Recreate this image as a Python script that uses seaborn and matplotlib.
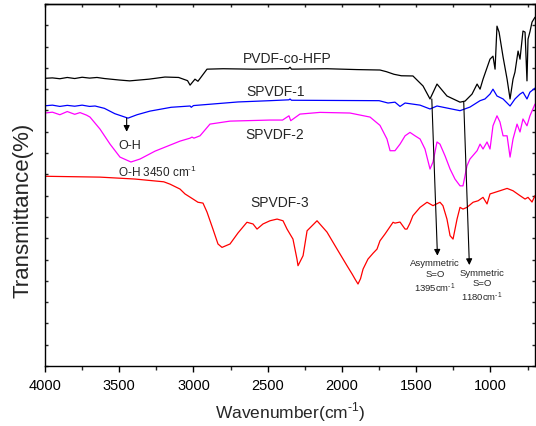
import numpy as np
import pandas as pd
import matplotlib
matplotlib.use("Agg")
import matplotlib.pyplot as plt
import seaborn as sns

# FTIR spectra (wavenumber in cm-1, transmittance offset per sample, arbitrary units)
wn_hfp = [4000, 3950, 3900, 3850, 3800, 3750, 3700, 3650, 3600, 3500, 3430, 3300, 3192,
          3100, 3040, 3023, 2990, 2970, 2909, 2800, 2600, 2400, 2360, 2350, 2340, 2100,
          1900, 1744, 1700, 1650, 1600, 1522, 1454, 1407, 1360, 1293, 1205, 1171, 1124,
          1090, 1070, 1050, 1003, 983, 969, 956, 942, 915, 888, 868, 848, 835, 814, 801,
          781, 767, 754, 747, 734, 720, 700]
t_hfp = [13.51, 13.53, 13.49, 13.55, 13.50, 13.56, 13.52, 13.55, 13.50, 13.43, 13.39, 13.47,
         13.57, 13.55, 13.40, 13.19, 13.47, 13.37, 13.94, 13.96, 13.94, 13.96, 13.96, 14.03,
         13.94, 13.96, 13.92, 13.90, 13.82, 13.70, 13.63, 13.62, 13.15, 12.54, 13.24, 12.68,
         12.39, 12.44, 12.77, 13.24, 13.00, 13.47, 14.41, 14.55, 13.94, 15.96, 15.68, 14.51,
         13.47, 12.54, 13.47, 13.80, 14.79, 14.41, 15.73, 15.68, 13.39, 15.35, 15.70, 16.15,
         16.38]

wn_s1 = [4000, 3950, 3900, 3850, 3800, 3750, 3700, 3663, 3600, 3530, 3441, 3380, 3293,
         3150, 3023, 3015, 3000, 2700, 2485, 2357, 2350, 2340, 1750, 1690, 1643, 1609,
         1575, 1474, 1407, 1360, 1205, 1138, 1070, 1037, 1003, 983, 956, 915, 868, 835,
         801, 781, 754, 734, 700]
t_s1 = [12.22, 12.25, 12.19, 12.24, 12.20, 12.25, 12.19, 12.21, 12.10, 11.85, 11.64, 11.80,
        11.97, 12.15, 12.21, 12.15, 12.23, 12.40, 12.46, 12.50, 12.54, 12.48, 12.46, 12.35,
        12.39, 12.19, 12.35, 12.25, 12.07, 12.21, 11.99, 12.16, 12.46, 12.54, 12.77, 13.00,
        12.68, 12.54, 12.21, 12.54, 12.77, 12.86, 12.54, 12.86, 13.05]

wn_s2 = [4000, 3950, 3900, 3850, 3800, 3764, 3720, 3697, 3630, 3562, 3495, 3421, 3360,
         3259, 3091, 3023, 3010, 2997, 2956, 2889, 2754, 2485, 2400, 2357, 2345, 2283,
         2148, 1946, 1811, 1744, 1697, 1676, 1643, 1609, 1575, 1542, 1508, 1474, 1441,
         1407, 1387, 1360, 1340, 1306, 1272, 1239, 1205, 1185, 1158, 1138, 1090, 1070,
         1050, 1023, 1003, 983, 956, 936, 915, 888, 868, 848, 821, 801, 781, 754, 734, 700]
t_s2 = [11.88, 11.92, 11.80, 11.95, 11.82, 11.90, 11.78, 11.69, 11.13, 10.42, 9.81, 9.58,
        9.72, 10.09, 10.56, 10.70, 10.75, 10.70, 10.81, 11.36, 11.50, 11.55, 11.55, 11.75,
        11.52, 11.83, 11.91, 11.88, 11.69, 11.30, 10.66, 10.11, 10.11, 10.42, 10.81, 10.97,
        10.81, 10.66, 10.19, 9.25, 9.58, 10.52, 10.42, 9.87, 9.25, 8.78, 8.46, 8.46, 9.40,
        9.72, 10.11, 10.42, 10.19, 10.52, 10.19, 11.28, 11.75, 11.46, 10.81, 10.81, 9.81,
        10.66, 11.36, 10.99, 11.60, 11.28, 11.75, 12.30]

wn_s3 = [4000, 3630, 3394, 3200, 3158, 3091, 3057, 3003, 2970, 2936, 2909, 2869, 2835,
         2808, 2754, 2700, 2640, 2599, 2572, 2532, 2485, 2437, 2397, 2370, 2330, 2303,
         2296, 2262, 2235, 2168, 2101, 2033, 1966, 1930, 1912, 1892, 1875, 1858, 1825,
         1790, 1764, 1744, 1710, 1656, 1643, 1609, 1575, 1562, 1542, 1522, 1474, 1427,
         1387, 1340, 1320, 1293, 1272, 1252, 1225, 1205, 1185, 1158, 1117, 1083, 1050,
         1023, 1003, 936, 888, 848, 801, 767, 747, 720, 700]
t_s3 = [8.91, 8.87, 8.78, 8.65, 8.54, 8.31, 8.08, 7.84, 7.69, 7.65, 7.23, 6.43, 5.73, 5.57,
        5.73, 6.25, 6.75, 6.67, 6.43, 6.67, 6.82, 6.90, 6.82, 6.43, 5.96, 5.02, 4.71, 5.18,
        6.35, 6.82, 6.29, 5.49, 4.71, 4.30, 4.08, 3.85, 4.10, 4.55, 5.02, 5.30, 5.49, 5.88,
        6.20, 6.75, 6.71, 6.76, 6.43, 6.43, 6.71, 7.06, 7.45, 7.69, 7.53, 7.69, 7.53, 6.90,
        6.12, 5.96, 6.90, 7.45, 7.37, 7.45, 7.69, 7.76, 7.92, 7.61, 8.08, 8.23, 8.34, 8.23,
        8.00, 7.84, 7.92, 7.70, 8.00]

sample_names = ["PVDF-co-HFP", "SPVDF-1", "SPVDF-2", "SPVDF-3"]
sample_colors = ["#000000", "#0000FF", "#FF00FF", "#FF0000"]
x_ticks = [4000, 3500, 3000, 2500, 2000, 1500, 1000]

# band assignments
oh_band = 3450
asym_so = 1395
sym_so = 1180

frames = []
for name, wn, t in zip(sample_names, [wn_hfp, wn_s1, wn_s2, wn_s3], [t_hfp, t_s1, t_s2, t_s3]):
    frames.append(pd.DataFrame({"wavenumber": wn, "transmittance": t, "sample": name}))
df = pd.concat(frames, ignore_index=True)

sns.set_theme(style="ticks")
plt.rcParams["font.family"] = ["Liberation Sans", "DejaVu Sans"]
plt.rcParams["mathtext.fontset"] = "custom"
plt.rcParams["mathtext.rm"] = "Liberation Sans"
plt.rcParams["xtick.direction"] = "out"
plt.rcParams["ytick.direction"] = "in"

fig = plt.figure(figsize=(5.36, 4.27), dpi=100)
ax = fig.add_axes([45 / 536, 60 / 427, 490 / 536, 362 / 427])

sns.lineplot(data=df, x="wavenumber", y="transmittance", hue="sample",
             palette=dict(zip(sample_names, sample_colors)), estimator=None,
             sort=False, linewidth=0.9, legend=False, ax=ax)

ax.set_xlim(4000, 700)
ax.set_ylim(0, 17)
ax.set_xlabel("")
ax.set_ylabel("")

for s in ax.spines.values():
    s.set_linewidth(1.0)
    s.set_color("black")
    s.set_visible(True)

ax.set_xticks(x_ticks)
ax.set_xticklabels([str(v) for v in x_ticks])
ax.set_xticks(np.arange(3750, 700, -500), minor=True)
ax.tick_params(axis="x", which="major", direction="out", length=4.3, width=1.0,
               labelsize=10.5, pad=4, colors="black")
ax.tick_params(axis="x", which="minor", direction="out", length=2.8, width=1.0)

ax.set_yticks(np.arange(0, 18, 1))
ax.tick_params(axis="y", which="both", direction="in", length=2.5, width=1.0,
               left=True, right=True, labelleft=False, labelright=False)

top = ax.secondary_xaxis("top")
top.set_xticks(np.arange(4000, 699, -250))
top.tick_params(direction="in", length=2.5, width=1.0, labeltop=False)
top.spines["top"].set_linewidth(1.0)

# sample labels
ax.text(2370, 14.46, "PVDF-co-HFP", ha="center", va="center", fontsize=10)
ax.text(2444, 12.91, "SPVDF-1", ha="center", va="center", fontsize=10)
ax.text(2451, 10.89, "SPVDF-2", ha="center", va="center", fontsize=10)
ax.text(2417, 7.70, "SPVDF-3", ha="center", va="center", fontsize=10)

arrow = dict(arrowstyle="-|>", color="black", lw=0.8, mutation_scale=9,
             shrinkA=0, shrinkB=0)

# O-H stretching
ax.annotate("", xy=(oh_band, 11.0), xytext=(oh_band, 11.64), arrowprops=arrow)
ax.text(3428, 10.38, "O-H", ha="center", va="center", fontsize=9)
ax.text(3508, 9.12, f"O-H {oh_band} cm$^{{\\text{{-}}1}}$", ha="left", va="center",
        fontsize=8.5)

# S=O stretching bands
ax.annotate("", xy=(asym_so - 38, 5.18), xytext=(asym_so, 12.54), arrowprops=arrow)
ax.annotate("", xy=(sym_so - 38, 4.74), xytext=(sym_so, 12.39), arrowprops=arrow)
ax.text(1373, 5.05, f"Asymmetric\nS=O\n{asym_so}cm$^{{\\text{{-}}1}}$", ha="center",
        va="top", fontsize=6.8, linespacing=1.25)
ax.text(1057, 4.62, f"Symmetric\nS=O\n{sym_so}cm$^{{\\text{{-}}1}}$", ha="center",
        va="top", fontsize=6.8, linespacing=1.25)

fig.text(290 / 536, 1 - 412 / 427, "Wavenumber(cm$^{\\text{-}1}$)", ha="center",
         va="center", fontsize=12.5)
fig.text(23 / 536, 1 - 210 / 427, "Transmittance(%)", ha="center", va="center",
         rotation=90, fontsize=16)

fig.savefig("out.png", dpi=100)
